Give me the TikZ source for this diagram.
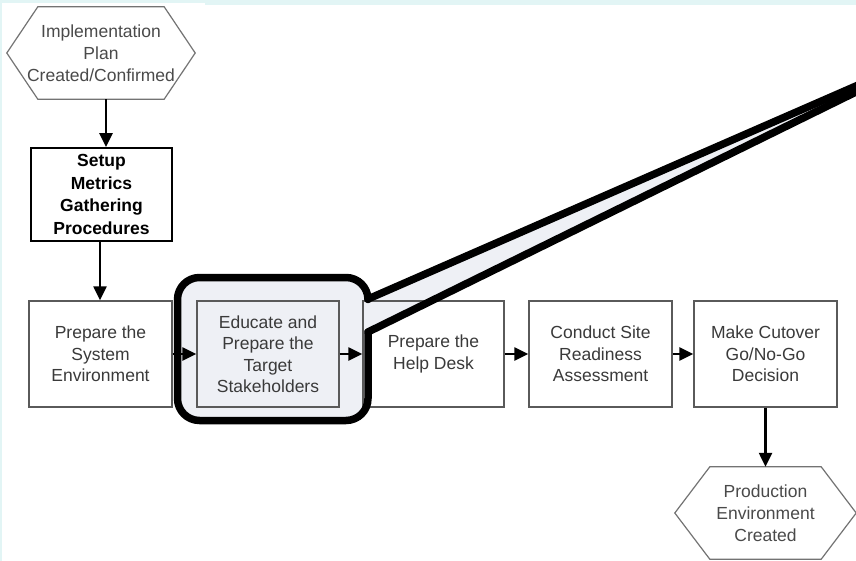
\documentclass[tikz,border=0pt]{standalone}
\usepackage{fontspec}
\setmainfont{Liberation Sans}
\usetikzlibrary{arrows.meta,calc}
\definecolor{bgc}{HTML}{E2F5F5}
\definecolor{hl}{HTML}{EEF0F5}
\definecolor{txt}{HTML}{3A3A3A}
\definecolor{hextxt}{HTML}{4A4A4A}
\definecolor{boxc}{HTML}{5A5A5A}
\tikzset{
  box/.style={draw=boxc, line width=1.4pt, minimum width=142pt, minimum height=106pt,
    inner sep=0pt, align=center, text=txt, font=\fontsize{17.5}{21.5}\selectfont},
  setupbox/.style={draw=black, line width=1.8pt, minimum width=141pt, minimum height=93pt,
    inner sep=0pt, align=center, text=black, font=\bfseries\fontsize{17.5}{22.5}\selectfont},
  hexnode/.style={minimum width=188pt, minimum height=92pt, inner sep=0pt, align=center,
    text=hextxt, font=\fontsize{17.5}{22}\selectfont},
  hexline/.style={draw=boxc!85, line width=1.2pt},
  arr/.style={line width=2.4pt, -{Triangle[length=14pt,width=13pt]}},
  hlstroke/.style={draw=black, line width=7.5pt, line cap=round, line join=round},
}
\begin{document}
\begin{tikzpicture}[x=1pt,y=-1pt]
\useasboundingbox (0,0) rectangle (856,561);
\clip (0,0) rectangle (856,561);
% background
\fill[bgc] (0,0) rectangle (856,561);
\fill[white] (2,3) rectangle (856,561);
\fill[bgc] (205,0) rectangle (856,5);

% highlight fills
\fill[hl, rounded corners=22pt] (177.5,277.5) rectangle (368,420.5);
\fill[hl] (366,299) -- (880,75.5) -- (880,80.2) -- (366,332) -- cycle;

% hexagons
\node[hexnode] (hexT) at (101,53) {Implementation\\Plan\\Created/Confirmed};
\draw[hexline] (hexT.west) -- ([xshift=31pt]hexT.north west) -- ([xshift=-31pt]hexT.north east)
  -- (hexT.east) -- ([xshift=-31pt]hexT.south east) -- ([xshift=31pt]hexT.south west) -- cycle;

\node[hexnode, minimum width=181pt] (hexB) at (765.5,513) {Production\\Environment\\Created};
\draw[hexline] (hexB.west) -- ([xshift=35pt]hexB.north west) -- ([xshift=-35pt]hexB.north east)
  -- (hexB.east) -- ([xshift=-35pt]hexB.south east) -- ([xshift=35pt]hexB.south west) -- cycle;

% boxes
\node[setupbox] (setup) at (101.5,194.5) {Setup\\Metrics\\Gathering\\Procedures};
\node[box, minimum width=143pt] (sys) at (100.5,354) {Prepare the\\System\\Environment};
\node[box, fill=hl] (edu) at (268,354) {Educate and\\Prepare the\\Target\\Stakeholders};
\node[box, minimum width=141pt] (help) at (433.5,354) {Prepare the\\Help Desk};
\node[box, minimum width=143pt] (site) at (600.5,354) {Conduct Site\\Readiness\\Assessment};
\node[box, minimum width=143pt] (cut) at (765.5,354) {Make Cutover\\Go/No-Go\\Decision};

% arrows
\draw[arr, line width=2.8pt] ([xshift=5pt]hexT.south) -- ([xshift=5pt]hexT.south |- setup.north);
\draw[arr] ([xshift=-1.5pt]setup.south) -- ([xshift=-1.5pt]setup.south |- sys.north);
\draw[arr] (sys.east) -- (edu.west);
\draw[arr] (edu.east) -- (help.west);
\draw[arr] (help.east) -- (site.west);
\draw[arr] (site.east) -- (cut.west);
\draw[arr] (cut.south) -- (hexB.north -| cut.south);

% highlight stroke with callout tail
\coordinate (tailA) at (368,299);
\coordinate (tailB) at (368,332);
\coordinate (farA) at (880,75.5);
\coordinate (farB) at (880,80.2);
\draw[hlstroke, rounded corners=22pt] (tailB) -- (368,420.5) -- (177.5,420.5) -- (177.5,277.5) -- (368,277.5) -- (tailA);
\draw[hlstroke] (tailA) -- (farA);
\draw[hlstroke] (tailB) -- (farB);
\end{tikzpicture}
\end{document}
